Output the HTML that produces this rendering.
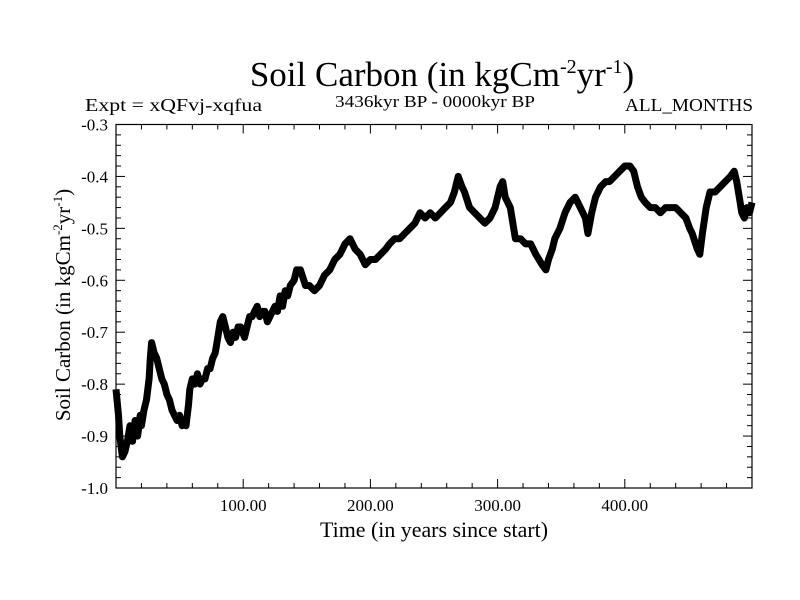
<!DOCTYPE html>
<html><head><meta charset="utf-8"><style>
body{margin:0;background:#fff}
svg{display:block;font-family:"Liberation Serif",serif}
</style></head><body>
<svg id="chart" width="800" height="600">
<text x="442" y="86" text-anchor="middle" font-size="35">Soil Carbon (in kgCm<tspan dy="-13" font-size="20">-2</tspan><tspan dy="13">yr</tspan><tspan dy="-13" font-size="20">-1</tspan><tspan dy="13">)</tspan></text>
<text x="85" y="111" font-size="18" textLength="177" lengthAdjust="spacingAndGlyphs">Expt = xQFvj-xqfua</text>
<text x="335" y="107" font-size="17" textLength="200" lengthAdjust="spacingAndGlyphs">3436kyr BP - 0000kyr BP</text>
<text x="625" y="111" font-size="18" textLength="128" lengthAdjust="spacingAndGlyphs">ALL_MONTHS</text>
<text transform="translate(70,305) rotate(-90)" text-anchor="middle" font-size="21">Soil Carbon (in kgCm<tspan dy="-8" font-size="13">-2</tspan><tspan dy="8">yr</tspan><tspan dy="-8" font-size="13">-1</tspan><tspan dy="8">)</tspan></text>
<text x="320" y="537" font-size="22" textLength="228" lengthAdjust="spacingAndGlyphs">Time (in years since start)</text>
<g id="axes"></g>
<path id="series" fill="none" stroke="#000" stroke-width="7" stroke-linejoin="round"/>
</svg>
<script>
const years = [0,2,3,5,7,9,11,13,15,17,19,20,22,24,26,27,28,30,32,34,36,38,40,42,44,46,48,50,52,54,55,57,58,60,62,64,66,68,70,72,74,76,78,80,82,84,86,88,90,92,94,96,98,101,103,105,107,109,111,113,115,117,119,121,123,125,127,129,131,133,135,137,140,142,145,149,152,156,160,164,168,172,176,180,184,188,192,196,200,204,208,212,215,219,223,227,231,235,239,243,247,251,255,259,263,266,269,272,274,278,282,286,290,294,298,302,304,306,310,314,318,322,326,330,335,338,340,343,345,349,353,357,361,365,369,371,374,377,381,385,388,392,396,400,404,407,410,413,416,420,424,428,432,436,440,444,448,451,453,457,459,461,464,467,471,475,479,483,486,488,490,492,494,496,498,500];
const values = [-0.81,-0.86,-0.90,-0.94,-0.93,-0.91,-0.88,-0.91,-0.87,-0.90,-0.86,-0.88,-0.85,-0.83,-0.79,-0.75,-0.72,-0.74,-0.75,-0.77,-0.79,-0.80,-0.82,-0.83,-0.85,-0.86,-0.87,-0.86,-0.88,-0.87,-0.88,-0.84,-0.81,-0.79,-0.80,-0.78,-0.80,-0.79,-0.79,-0.77,-0.77,-0.75,-0.74,-0.71,-0.68,-0.67,-0.69,-0.71,-0.72,-0.70,-0.71,-0.69,-0.69,-0.71,-0.69,-0.67,-0.67,-0.66,-0.65,-0.67,-0.66,-0.66,-0.68,-0.67,-0.66,-0.65,-0.66,-0.63,-0.65,-0.62,-0.63,-0.61,-0.60,-0.58,-0.58,-0.61,-0.61,-0.62,-0.61,-0.59,-0.58,-0.56,-0.55,-0.53,-0.52,-0.54,-0.55,-0.57,-0.56,-0.56,-0.55,-0.54,-0.53,-0.52,-0.52,-0.51,-0.50,-0.49,-0.47,-0.48,-0.47,-0.48,-0.47,-0.46,-0.45,-0.43,-0.40,-0.42,-0.43,-0.46,-0.47,-0.48,-0.49,-0.48,-0.46,-0.42,-0.41,-0.44,-0.46,-0.52,-0.52,-0.53,-0.53,-0.55,-0.57,-0.58,-0.56,-0.54,-0.52,-0.50,-0.47,-0.45,-0.44,-0.46,-0.48,-0.51,-0.47,-0.44,-0.42,-0.41,-0.41,-0.40,-0.39,-0.38,-0.38,-0.39,-0.42,-0.44,-0.45,-0.46,-0.46,-0.47,-0.46,-0.46,-0.46,-0.47,-0.48,-0.50,-0.51,-0.54,-0.55,-0.51,-0.46,-0.43,-0.43,-0.42,-0.41,-0.40,-0.39,-0.41,-0.44,-0.47,-0.48,-0.46,-0.47,-0.45,-0.48];
const yTicks = [-0.3,-0.4,-0.5,-0.6,-0.7,-0.8,-0.9,-1.0];
const yTickLabels = ["-0.3","-0.4","-0.5","-0.6","-0.7","-0.8","-0.9","-1.0"];
const xTicks = [100,200,300,400];
const xTickLabels = ["100.00","200.00","300.00","400.00"];

const L=116,R=752,T=124.5,B=488;
const xMin=0,xMax=500,yMin=-1.0,yMax=-0.3;
const sx=v=>L+(v-xMin)/(xMax-xMin)*(R-L);
const sy=v=>B-(v-yMin)/(yMax-yMin)*(B-T);
const NS="http://www.w3.org/2000/svg";
const ax=document.getElementById('axes');
function mk(tag,attrs){const e=document.createElementNS(NS,tag);for(const k in attrs)e.setAttribute(k,attrs[k]);ax.appendChild(e);return e;}
const frame=mk('rect',{x:L,y:T,width:R-L,height:B-T,fill:'none',stroke:'#000','stroke-width':1.2});


for(let v=20;v<xMax;v+=20){const big=v%100===0;const h=big?9:5;
 const t1=mk('line',{x1:sx(v),x2:sx(v),y1:B,y2:B-h,stroke:'#000'});
 
 
 const t2=mk('line',{x1:sx(v),x2:sx(v),y1:T,y2:T+h,stroke:'#000'});
 
 }
for(let i=0;i<=35;i++){const v=yMin+i*0.02;const big=i%5===0;const h=big?9:5;
 const t1=mk('line',{x1:L,x2:L+h,y1:sy(v),y2:sy(v),stroke:'#000'});
 
 
 const t2=mk('line',{x1:R,x2:R-h,y1:sy(v),y2:sy(v),stroke:'#000'});
 
 }
yTicks.forEach((v,i)=>{const t=mk('text',{x:L-8,y:sy(v)+6,'text-anchor':'end','font-size':17});t.textContent=yTickLabels[i];
 
 });
xTicks.forEach((v,i)=>{const t=mk('text',{x:sx(v),y:B+23,'text-anchor':'middle','font-size':17});t.textContent=xTickLabels[i];
 
 });
let d='';years.forEach((x,i)=>{d+=(i?'L':'M')+sx(x).toFixed(1)+' '+sy(values[i]).toFixed(1);});
document.getElementById('series').setAttribute('d',d);
</script>
</body></html>
